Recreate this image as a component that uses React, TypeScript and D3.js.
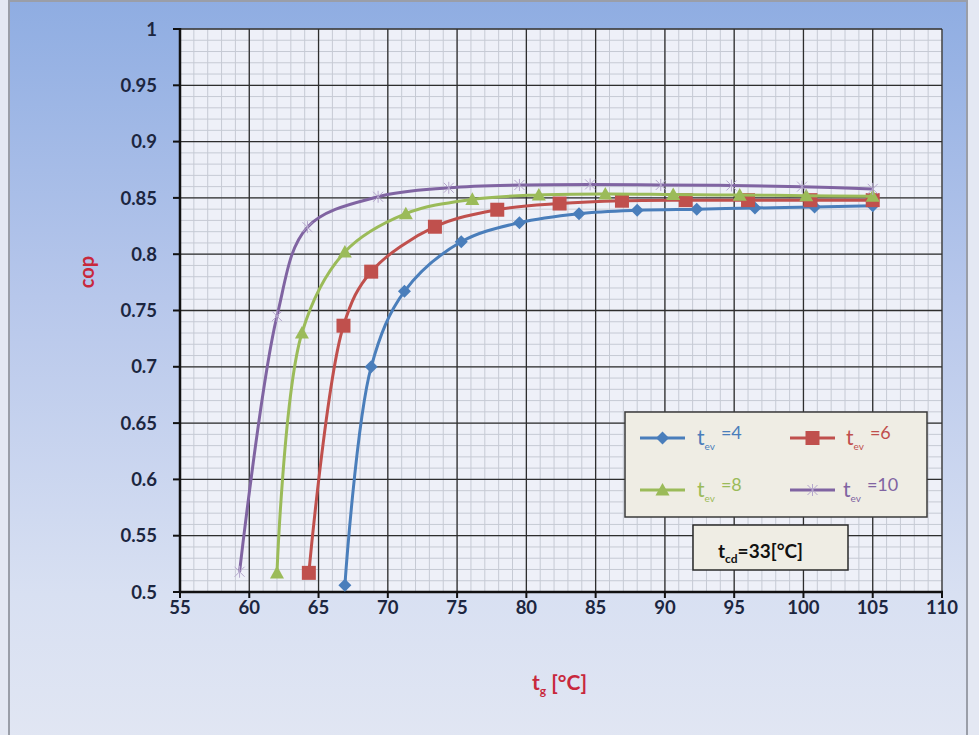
import React from "react";
import * as d3 from "d3";

const xTicks = [55, 60, 65, 70, 75, 80, 85, 90, 95, 100, 105, 110];
const yTicks = [0.5, 0.55, 0.6, 0.65, 0.7, 0.75, 0.8, 0.85, 0.9, 0.95, 1];
const yTickLabels = ["0.5", "0.55", "0.6", "0.65", "0.7", "0.75", "0.8", "0.85", "0.9", "0.95", "1"];

const tg4 = [66.9, 68.8, 71.2, 75.3, 79.5, 83.8, 88.0, 92.3, 96.5, 100.8, 105];
const cop4 = [0.506, 0.700, 0.767, 0.811, 0.828, 0.836, 0.839, 0.840, 0.841, 0.842, 0.843];

const tg6 = [64.3, 66.8, 68.8, 73.4, 77.9, 82.4, 86.9, 91.5, 96.0, 100.5, 105];
const cop6 = [0.517, 0.7365, 0.7845, 0.8244, 0.8395, 0.845, 0.8475, 0.848, 0.848, 0.848, 0.848];

const tg8 = [62.0, 63.8, 66.9, 71.3, 76.1, 80.9, 85.7, 90.6, 95.4, 100.2, 105];
const cop8 = [0.517, 0.730, 0.802, 0.836, 0.8487, 0.8526, 0.8535, 0.853, 0.8525, 0.852, 0.8515];

const tg10 = [59.3, 62.0, 64.2, 69.3, 74.4, 79.5, 84.6, 89.7, 94.8, 99.9, 105];
const cop10 = [0.518, 0.745, 0.824, 0.851, 0.859, 0.8615, 0.862, 0.8615, 0.861, 0.860, 0.858];

const seriesNames = ["=4", "=6", "=8", "=10"];
const colors = ["#4a7ebb", "#c0504d", "#9bbb59", "#8064a2"];

const W = 979;
const H = 735;
const x = d3.scaleLinear().domain([55, 110]).range([180, 942]);
const y = d3.scaleLinear().domain([0.5, 1]).range([592, 29]);

const FONT = "Lato, 'Open Sans', sans-serif";

function Marker({ kind, cx, cy, color }: { kind: number; cx: number; cy: number; color: string }) {
  if (kind === 0) {
    const s = 6.5;
    return <path d={`M${cx},${cy - s}L${cx + s},${cy}L${cx},${cy + s}L${cx - s},${cy}Z`} fill={color} />;
  }
  if (kind === 1) {
    const s = 7;
    return <rect x={cx - s} y={cy - s} width={2 * s} height={2 * s} fill={color} />;
  }
  if (kind === 2) {
    const s = 7;
    return <path d={`M${cx},${cy - s}L${cx + s},${cy + s * 0.8}L${cx - s},${cy + s * 0.8}Z`} fill={color} />;
  }
  const s = 5;
  return (
    <g stroke="#b4a6cc" strokeWidth={1} fill="none">
      <path d={`M${cx - s},${cy - s}L${cx + s},${cy + s}M${cx - s},${cy + s}L${cx + s},${cy - s}M${cx},${cy - s - 1}L${cx},${cy + s + 1}`} />
    </g>
  );
}

export default function App() {
  const xs = [tg4, tg6, tg8, tg10];
  const ys = [cop4, cop6, cop8, cop10];
  const line = d3
    .line<[number, number]>()
    .x((d) => x(d[0]))
    .y((d) => y(d[1]))
    .curve(d3.curveCatmullRom.alpha(0.5));

  const minorX = d3.range(55, 110.001, 1);
  const minorY = d3.range(0, 51).map((i) => 0.5 + i * 0.01);

  const legendItems = [
    { lx: 640, ly: 438, tx: 697 },
    { lx: 790, ly: 438, tx: 846 },
    { lx: 640, ly: 490, tx: 697 },
    { lx: 790, ly: 490, tx: 843 },
  ];

  return (
    <svg width={W} height={H} style={{ position: "absolute", left: 0, top: 0, fontFamily: FONT }}>
      <defs>
        <linearGradient id="bg" x1="0" y1="0" x2="0" y2="1">
          <stop offset="0" stopColor="#8fade2" />
          <stop offset="0.4" stopColor="#b7c7eb" />
          <stop offset="0.8" stopColor="#d8e0f2" />
          <stop offset="1" stopColor="#e1e6f3" />
        </linearGradient>
      </defs>
      <rect x={0} y={0} width={W} height={H} fill="#e4e8f3" />
      <rect x={9} y={1} width={958} height={H + 5} fill="url(#bg)" stroke="#9a9ea8" strokeWidth={2} />
      <rect x={x(55)} y={y(1)} width={x(110) - x(55)} height={y(0.5) - y(1)} fill="#eef0f8" />
      {/* minor grid */}
      <g stroke="#c6cad4" strokeWidth={1}>
        {minorX.map((v) => (
          <line key={"mx" + v} x1={x(v)} x2={x(v)} y1={y(1)} y2={y(0.5)} />
        ))}
        {minorY.map((v, i) => (
          <line key={"my" + i} x1={x(55)} x2={x(110)} y1={y(v)} y2={y(v)} />
        ))}
      </g>
      {/* major grid */}
      <g stroke="#2e2e2e" strokeWidth={1.3}>
        {xTicks.slice(1).map((v) => (
          <line key={"Mx" + v} x1={x(v)} x2={x(v)} y1={y(1)} y2={y(0.5)} />
        ))}
        {yTicks.slice(1).map((v) => (
          <line key={"My" + v} x1={x(55)} x2={x(110)} y1={y(v)} y2={y(v)} />
        ))}
      </g>
      {/* axes */}
      <g stroke="#111" strokeWidth={2.5}>
        <line x1={x(55)} x2={x(55)} y1={y(1) - 1} y2={y(0.5) + 1} />
        <line x1={x(55) - 1} x2={x(110) + 1} y1={y(0.5)} y2={y(0.5)} />
      </g>
      <g stroke="#111" strokeWidth={2}>
        {yTicks.map((v) => (
          <line key={"yt" + v} x1={x(55) - 7} x2={x(55)} y1={y(v)} y2={y(v)} />
        ))}
        {xTicks.map((v) => (
          <line key={"xt" + v} x1={x(v)} x2={x(v)} y1={y(0.5)} y2={y(0.5) + 6} />
        ))}
      </g>
      <g fontSize={18.5} fontWeight={700} fill="#1c2640">
        {yTicks.map((v, i) => (
          <text key={"yl" + v} x={157} y={y(v)} dy="0.36em" textAnchor="end">
            {yTickLabels[i]}
          </text>
        ))}
        {xTicks.map((v) => (
          <text key={"xl" + v} x={x(v)} y={614} textAnchor="middle">
            {v}
          </text>
        ))}
      </g>
      {/* axis titles */}
      <text transform="translate(94,272) rotate(-90)" textAnchor="middle" fontSize={20} fontWeight={700} fill="#c8283c">
        cop
      </text>
      <text x={532} y={690} fontSize={21} fontWeight={700} fill="#c8283c">
        t<tspan fontSize={12} dy={5}>g</tspan>
        <tspan dy={-5}> [°C]</tspan>
      </text>
      {/* series */}
      {xs.map((xv, si) => {
        const pts: [number, number][] = xv.map((v, i) => [v, ys[si][i]]);
        return (
          <g key={"s" + si}>
            <path d={line(pts) || ""} fill="none" stroke={colors[si]} strokeWidth={3} />
            {pts.map((p, i) => (
              <Marker key={i} kind={si} cx={x(p[0])} cy={y(p[1])} color={colors[si]} />
            ))}
          </g>
        );
      })}
      {/* legend */}
      <rect x={625} y={412} width={302} height={105} fill="#efede4" stroke="#3a3a3a" strokeWidth={1.5} />
      {legendItems.map((it, si) => (
        <g key={"lg" + si}>
          <line x1={it.lx} x2={it.lx + 45} y1={it.ly} y2={it.ly} stroke={colors[si]} strokeWidth={3} />
          <Marker kind={si} cx={it.lx + 22.5} cy={it.ly} color={colors[si]} />
          <text x={it.tx} y={it.ly + 7} fontSize={21} fill={colors[si]}>
            t<tspan fontSize={10} dy={5}>ev</tspan>
            <tspan fontSize={18} dy={-11} dx={6}>{seriesNames[si]}</tspan>
          </text>
        </g>
      ))}
      {/* annotation */}
      <rect x={693} y={525} width={155} height={45} fill="#efede4" stroke="#2a2a2a" strokeWidth={1.5} />
      <text x={718} y={558} fontSize={19} fontWeight={700} fill="#111">
        t<tspan fontSize={12} dy={5}>cd</tspan>
        <tspan dy={-5}>=33[°C]</tspan>
      </text>
    </svg>
  );
}
